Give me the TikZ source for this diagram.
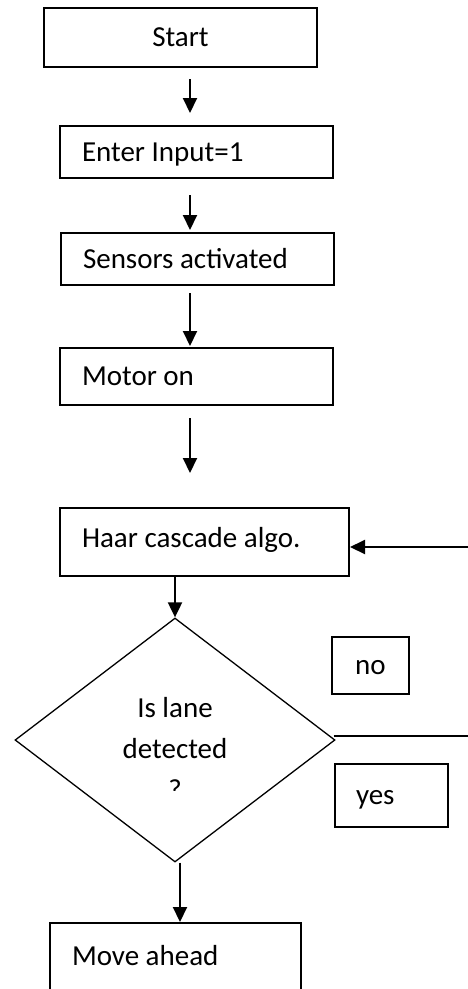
\documentclass[tikz,border=0pt]{standalone}
\usepackage{fontspec}
\setmainfont{Carlito}
\usetikzlibrary{arrows.meta,shapes.geometric}
\newcommand{\lefttext}[2]{\makebox[#1][l]{#2}}
\begin{document}
\begin{tikzpicture}[x=1pt,y=-1pt,
  font=\fontsize{29}{35}\selectfont,
  boxbase/.style={draw=black, line width=2pt, text height=18.7pt, text depth=0pt, inner ysep=0pt},
  cbox/.style={boxbase, align=center, inner xsep=0pt},
  lbox/.style={boxbase, inner xsep=22pt},
  arr/.style={line width=2pt, -{Triangle[length=15pt,width=14pt]}},
  plain/.style={line width=1.5pt}
]
\useasboundingbox (0,0) rectangle (468,989);
\fill[white] (0,0) rectangle (468,989);

\node[cbox, minimum width=273pt, minimum height=59pt, anchor=north west] (start) at (43,7) {Start};
\node[lbox, minimum width=273pt, minimum height=52pt, anchor=north west] (enter) at (59,125) {\lefttext{229pt}{Enter Input=1}};
\node[lbox, minimum width=273pt, minimum height=52pt, anchor=north west] (sens) at (60,232) {\lefttext{229pt}{Sensors activated}};
\node[lbox, minimum width=273pt, minimum height=57pt, anchor=north west] (motor) at (59,347) {\lefttext{229pt}{Motor on}};
\node[lbox, minimum width=289pt, minimum height=68pt, text depth=7pt, anchor=north west] (haar) at (59,507) {\lefttext{245pt}{Haar cascade algo.}};
\node[diamond, draw=black, line width=1.3pt, minimum width=320pt, minimum height=244pt, inner sep=0pt] (dec) at (175,740) {};
\node[anchor=base, inner sep=0pt] (l1) at (175,717) {Is lane};
\node[anchor=base, inner sep=0pt] (l2) at (175,758) {detected};
\begin{scope}
  \clip (150,770) rectangle (200,790);
  \node[anchor=base, inner sep=0pt] (l3) at (175,799) {?};
\end{scope}
\node[cbox, minimum width=77pt, minimum height=57pt, anchor=north west] (no) at (331,636) {no};
\node[lbox, inner xsep=21pt, minimum width=113pt, minimum height=63pt, anchor=north west] (yes) at (334,763) {\lefttext{71pt}{yes}};
\node[lbox, minimum width=251pt, minimum height=80pt, text depth=14pt, anchor=north west] (move) at (49,922) {\lefttext{207pt}{Move ahead}};

\coordinate (ax) at (190,0);
\coordinate (mx) at (180,0);
\coordinate (rend) at (468,736);
\coordinate (fb) at (468,547);

\draw[arr, shorten <=11pt, shorten >=12pt] (start.south -| ax) -- (enter.north -| ax);
\draw[arr, shorten <=16pt, shorten >=2pt] (enter.south -| ax) -- (sens.north -| ax);
\draw[arr, shorten <=7pt, shorten >=1pt] (sens.south -| ax) -- (motor.north -| ax);
\draw[arr, shorten <=12pt, shorten >=34pt] (motor.south -| ax) -- (haar.north -| ax);
\draw[arr] (haar.south -| dec.north) -- (dec.north);
\draw[arr] (dec.south -| mx) -- (move.north -| mx);
\draw[plain] ([xshift=-2pt]dec.east |- rend) -- (rend);
\draw[arr] (fb) -- (haar.east |- fb);
\end{tikzpicture}
\end{document}
